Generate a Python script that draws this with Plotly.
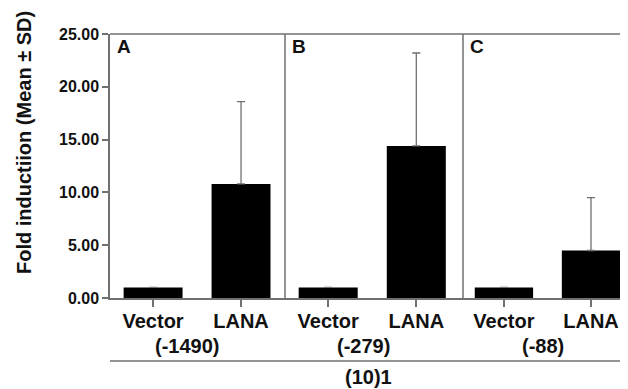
import plotly.graph_objects as go

categories = ["Vector", "LANA"]
panels = ["A", "B", "C"]
promoters = ["(-1490)", "(-279)", "(-88)"]
means = [[1.0, 10.8], [1.0, 14.4], [1.0, 4.5]]
sds = [[None, 7.8], [None, 8.8], [None, 5.0]]
y_ticks = [0, 5, 10, 15, 20, 25]
y_ticklabels = ["0.00", "5.00", "10.00", "15.00", "20.00", "25.00"]
group_title = "(10)1"
y_title = "Fold inductiion (Mean ± SD)"

FONT = "Liberation Sans, Arial, sans-serif"
AX = "#707070"
TXT = "#111111"

OFF = 8  # default page body margin
W, H = 628 - OFF, 389 - OFF
ml, mt = 110 - OFF, 34 - OFF
mr = 0
mb = H - (298 - OFF)
pw = W - ml - mr
ph = H - mt - mb
bounds_px = [110, 285, 463, 628]
domains = [[(bounds_px[i] - 110) / pw, (bounds_px[i + 1] - 110) / pw] for i in range(3)]
ranges = [[-0.49, 1.5], [-0.49, 1.53], [-0.47, 1.425]]

fig = go.Figure()
for i in range(3):
    xa = "x" if i == 0 else f"x{i+1}"
    fig.add_trace(go.Bar(
        x=categories, y=means[i], xaxis=xa, yaxis="y",
        marker=dict(color="black", line=dict(width=0)),
        width=0.67,
        error_y=dict(type="data", symmetric=False, array=sds[i],
                     arrayminus=[0, 0], color=AX, thickness=1.3, width=4),
        showlegend=False,
    ))

layout = dict(
    width=W, height=H,
    margin=dict(l=ml, r=mr, t=mt, b=mb, autoexpand=False),
    plot_bgcolor="white", paper_bgcolor="white",
    font=dict(family=FONT, color=TXT),
    yaxis=dict(range=[0, 25], tickvals=y_ticks, ticktext=y_ticklabels,
               showline=True, linecolor=AX, linewidth=1.5,
               ticks="outside", ticklen=6, tickcolor=AX, tickwidth=1.5,
               showgrid=False, zeroline=False, automargin=False,
               tickfont=dict(size=16, family=FONT, color=TXT, weight="bold"),
               anchor="x"),
)
for i in range(3):
    key = "xaxis" if i == 0 else f"xaxis{i+1}"
    layout[key] = dict(
        domain=domains[i], range=ranges[i], type="category",
        showline=True, linecolor=AX, linewidth=1.5,
        ticks="outside", ticklen=7, tickcolor=AX, tickwidth=1.5,
        showgrid=False, zeroline=False, anchor="y", automargin=False,
        ticklabelstandoff=-3,
        tickfont=dict(size=20, family=FONT, color=TXT, weight="bold"),
    )
fig.update_layout(**layout)

shapes = []
shapes.append(dict(type="line", xref="paper", yref="paper", x0=0, x1=1, y0=1, y1=1,
                   line=dict(color=AX, width=1.5)))
for i in (1, 2):
    d = domains[i][0]
    shapes.append(dict(type="line", xref="paper", yref="paper", x0=d, x1=d, y0=0, y1=1,
                       line=dict(color=AX, width=1.5)))
shapes.append(dict(type="line", xref="paper", yref="paper", x0=0, x1=1,
                   y0=-63 / ph, y1=-63 / ph, line=dict(color=AX, width=1.5)))
fig.update_layout(shapes=shapes)

ann = []
label_x = [0.38, 0.40, 0.45]
for i in range(3):
    xr = "x" if i == 0 else f"x{i+1}"
    ann.append(dict(text=f"<b>{panels[i]}</b>", xref=f"{xr} domain", yref="paper",
                    x=0.03, y=(298 - 47) / ph, xanchor="left", yanchor="middle", showarrow=False,
                    font=dict(size=19, family=FONT, color=TXT)))
    ann.append(dict(text=f"<b>{promoters[i]}</b>", xref=xr, yref="paper",
                    x=label_x[i], y=-48 / ph, xanchor="center", yanchor="middle",
                    showarrow=False, font=dict(size=20, family=FONT, color=TXT)))
ann.append(dict(text=f"<b>{group_title}</b>", xref="paper", yref="paper",
                x=(368 - 110) / pw, y=-79 / ph, xanchor="center", yanchor="middle",
                showarrow=False, font=dict(size=20, family=FONT, color=TXT)))
ann.append(dict(text=f"<b>{y_title}</b>", xref="paper", yref="paper",
                x=-(110 - 24) / pw, y=(298 - 143) / ph, xanchor="center", yanchor="middle",
                textangle=-90, showarrow=False, font=dict(size=20, family=FONT, color=TXT)))
fig.update_layout(annotations=ann)

fig.write_html("out.html")
